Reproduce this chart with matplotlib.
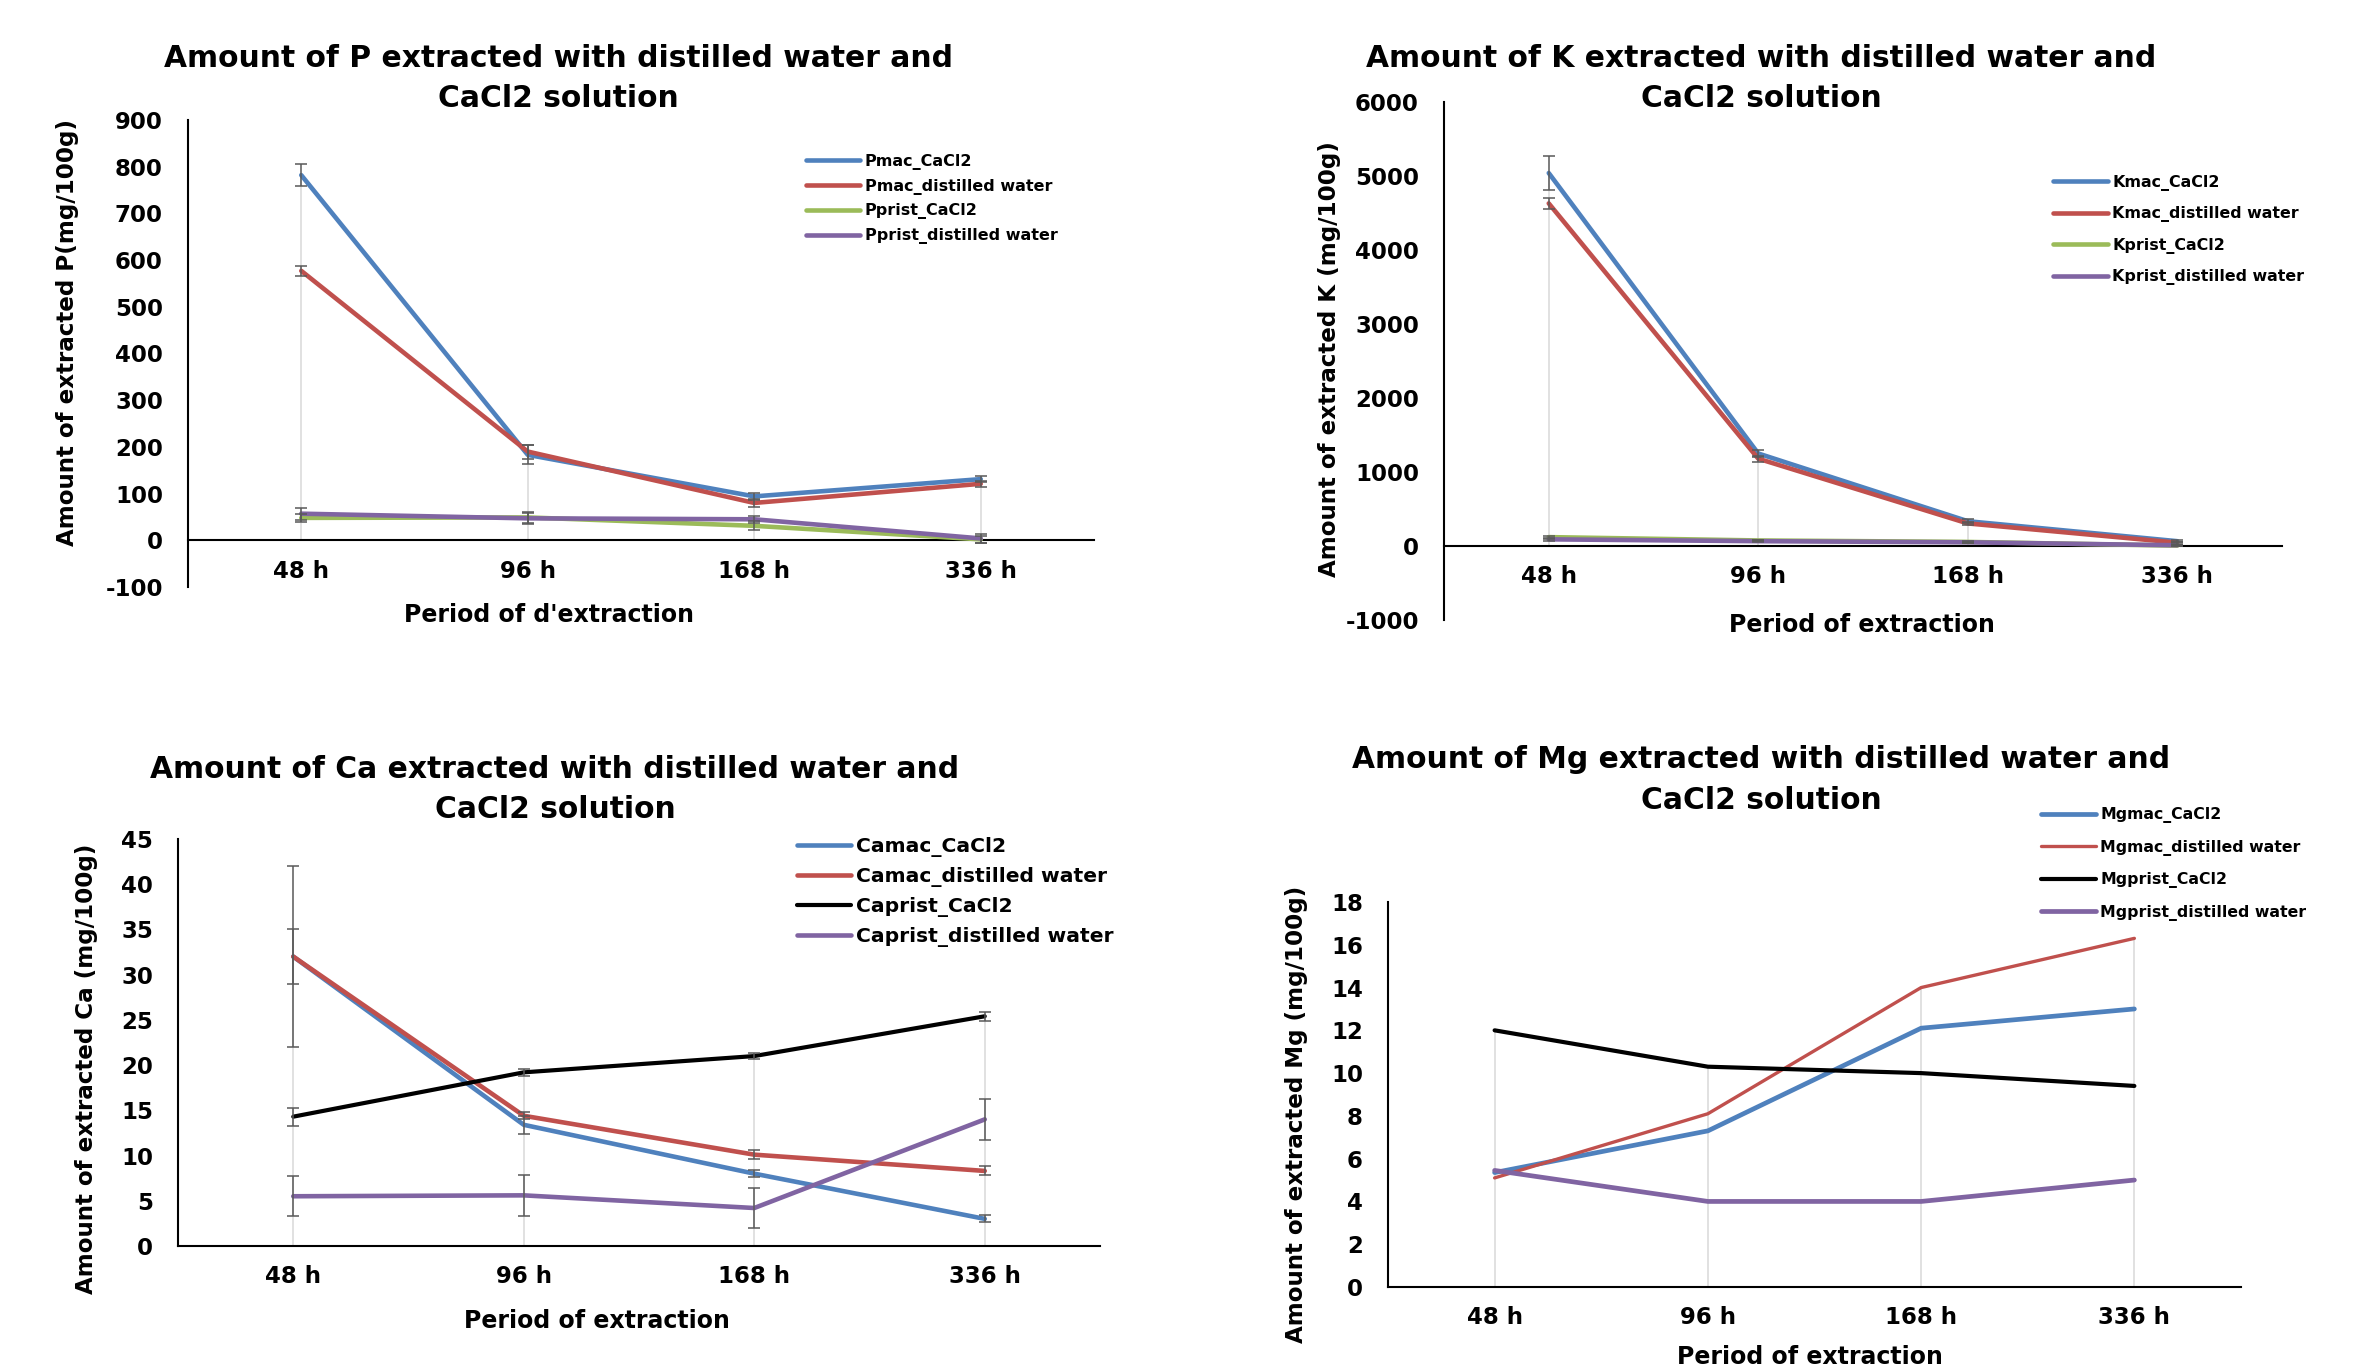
import numpy as np
import matplotlib
matplotlib.use("Agg")
import matplotlib.pyplot as plt

W, H = 2357, 1367
plt.rcParams['font.family'] = 'DejaVu Sans'
plt.rcParams['font.weight'] = 'bold'
plt.rcParams['axes.unicode_minus'] = False

periods = ["48 h", "96 h", "168 h", "336 h"]

# P (mg/100g)
p_mac_cacl2 = [782, 183, 94, 131]
p_mac_water = [577, 190, 80, 121]
p_prist_cacl2 = [48, 49, 31, 2]
p_prist_water = [57, 47, 45, 4]
p_mac_cacl2_err = [23, 20, 8, 6]
p_mac_water_err = [10, 15, 8, 6]
p_prist_cacl2_err = [8, 12, 10, 8]
p_prist_water_err = [13, 12, 8, 10]

# K (mg/100g)
k_mac_cacl2 = [5040, 1250, 335, 65]
k_mac_water = [4630, 1180, 305, 45]
k_prist_cacl2 = [120, 75, 55, 5]
k_prist_water = [90, 65, 50, 10]
k_mac_cacl2_err = [230, 50, 30, 15]
k_mac_water_err = [75, 40, 25, 15]
k_prist_cacl2_err = [20, 10, 10, 5]
k_prist_water_err = [20, 10, 10, 5]

# Ca (mg/100g)
ca_mac_cacl2 = [32.0, 13.4, 8.0, 3.0]
ca_mac_water = [32.0, 14.4, 10.1, 8.3]
ca_prist_cacl2 = [14.3, 19.2, 21.0, 25.4]
ca_prist_water = [5.5, 5.6, 4.2, 14.0]
ca_mac_cacl2_err = [10.0, 1.0, 0.4, 0.4]
ca_mac_water_err = [3.0, 0.4, 0.5, 0.5]
ca_prist_cacl2_err = [1.0, 0.4, 0.3, 0.5]
ca_prist_water_err = [2.2, 2.3, 2.25, 2.3]

# Mg (mg/100g)
mg_mac_cacl2 = [5.35, 7.3, 12.1, 13.0]
mg_mac_water = [5.1, 8.1, 14.0, 16.3]
mg_prist_cacl2 = [12.0, 10.3, 10.0, 9.4]
mg_prist_water = [5.45, 4.0, 4.0, 5.0]

BLUE = '#4F81BD'
RED = '#C0504D'
GREEN = '#9BBB59'
PURPLE = '#8064A2'
BLACK = '#000000'


def fx(px):
    return px / W


def fy(py):
    return 1 - py / H


def make_axes(fig, left, right, top, bottom):
    return fig.add_axes([fx(left), fy(bottom), (right - left) / W, (bottom - top) / H])


def draw_panel(ax, series, ylim, ystep, legend_cfg):
    x = np.arange(len(periods))
    # drop lines from the highest point to the axis
    tops = np.max([s[1] for s in series], axis=0)
    ax.vlines(x, 0, tops, color='#D9D9D9', lw=1.1, zorder=1)
    handles = []
    for label, vals, color, lw, err in series:
        h, = ax.plot(x, vals, color=color, lw=lw, label=label, zorder=3,
                     solid_capstyle='round')
        handles.append(h)
        if err is not None:
            ax.errorbar(x, vals, yerr=err, fmt='none', ecolor='#595959',
                        elinewidth=1.1, capsize=4.3, capthick=1.1, zorder=4)
    ax.set_xlim(-0.5, len(periods) - 0.5)
    ax.set_ylim(*ylim)
    ax.set_yticks(np.arange(ylim[0], ylim[1] + ystep / 2, ystep))
    ax.set_xticks(x)
    ax.set_xticklabels(periods)
    ax.spines['top'].set_visible(False)
    ax.spines['right'].set_visible(False)
    ax.spines['bottom'].set_position(('data', 0))
    ax.spines['left'].set_linewidth(1.5)
    ax.spines['bottom'].set_linewidth(1.5)
    ax.tick_params(axis='y', length=0, pad=18, labelsize=16.5)
    ax.tick_params(axis='x', length=0, pad=14, labelsize=16.5)
    for t in ax.get_xticklabels() + ax.get_yticklabels():
        t.set_fontweight('bold')
    fs, spacing, hlen, hx, cy = legend_cfg
    ax.figure.legend(handles=handles, loc='center left',
                     bbox_to_anchor=(fx(hx), fy(cy)), frameon=False,
                     labelspacing=spacing, handlelength=hlen,
                     handletextpad=0.28, borderpad=0, borderaxespad=0,
                     prop={'weight': 'bold', 'size': fs})


def title(fig, cx, base1, base2, elem):
    fig.text(fx(cx), fy(base1), "Amount of %s extracted with distilled water and" % elem,
             ha='center', va='baseline', fontsize=21.4, fontweight='bold')
    fig.text(fx(cx), fy(base2), "CaCl2 solution",
             ha='center', va='baseline', fontsize=21.4, fontweight='bold')


fig = plt.figure(figsize=(W / 100, H / 100), dpi=100)

# P panel
ax = make_axes(fig, 188, 1094, 120, 587)
draw_panel(ax, [
    ("Pmac_CaCl2", p_mac_cacl2, BLUE, 3.3, p_mac_cacl2_err),
    ("Pmac_distilled water", p_mac_water, RED, 3.3, p_mac_water_err),
    ("Pprist_CaCl2", p_prist_cacl2, GREEN, 3.3, p_prist_cacl2_err),
    ("Pprist_distilled water", p_prist_water, PURPLE, 3.3, p_prist_water_err),
], (-100, 900), 100, (11.5, 0.56, 3.4, 806, 199))
title(fig, 558, 67, 107, "P")
fig.text(fx(549), fy(615), "Period of d'extraction", ha='center', va='center',
         fontsize=17, fontweight='bold')
fig.text(fx(68), fy(332), "Amount of extracted P(mg/100g)", ha='center', va='center',
         rotation=90, fontsize=16.6, fontweight='bold')

# K panel
ax = make_axes(fig, 1444, 2282, 102, 620)
draw_panel(ax, [
    ("Kmac_CaCl2", k_mac_cacl2, BLUE, 3.3, k_mac_cacl2_err),
    ("Kmac_distilled water", k_mac_water, RED, 3.3, k_mac_water_err),
    ("Kprist_CaCl2", k_prist_cacl2, GREEN, 3.3, k_prist_cacl2_err),
    ("Kprist_distilled water", k_prist_water, PURPLE, 3.3, k_prist_water_err),
], (-1000, 6000), 1000, (11.4, 0.98, 3.45, 2053, 230))
title(fig, 1761, 67, 107, "K")
fig.text(fx(1862), fy(625), "Period of extraction", ha='center', va='center',
         fontsize=17, fontweight='bold')
fig.text(fx(1329), fy(359), "Amount of extracted K (mg/100g)", ha='center', va='center',
         rotation=90, fontsize=16.6, fontweight='bold')

# Ca panel
ax = make_axes(fig, 178, 1100, 839, 1246)
draw_panel(ax, [
    ("Camac_CaCl2", ca_mac_cacl2, BLUE, 3.3, ca_mac_cacl2_err),
    ("Camac_distilled water", ca_mac_water, RED, 3.3, ca_mac_water_err),
    ("Caprist_CaCl2", ca_prist_cacl2, BLACK, 3.0, ca_prist_cacl2_err),
    ("Caprist_distilled water", ca_prist_water, PURPLE, 3.3, ca_prist_water_err),
], (0, 45), 5, (14.6, 0.5, 2.65, 797, 892))
title(fig, 555, 778, 818, "Ca")
fig.text(fx(597), fy(1321), "Period of extraction", ha='center', va='center',
         fontsize=17, fontweight='bold')
fig.text(fx(87), fy(1069), "Amount of extracted Ca (mg/100g)", ha='center', va='center',
         rotation=90, fontsize=16.6, fontweight='bold')

# Mg panel
ax = make_axes(fig, 1388, 2241, 902, 1287)
draw_panel(ax, [
    ("Mgmac_CaCl2", mg_mac_cacl2, BLUE, 3.4, None),
    ("Mgmac_distilled water", mg_mac_water, RED, 2.4, None),
    ("Mgprist_CaCl2", mg_prist_cacl2, BLACK, 3.0, None),
    ("Mgprist_distilled water", mg_prist_water, PURPLE, 3.4, None),
], (0, 18), 2, (11.3, 1.05, 3.5, 2041, 864))
title(fig, 1761, 768, 809, "Mg")
fig.text(fx(1810), fy(1345), "Period of extraction", ha='center', va='top',
         fontsize=17, fontweight='bold')
fig.text(fx(1296), fy(1114), "Amount of extracted Mg (mg/100g)", ha='center', va='center',
         rotation=90, fontsize=16.6, fontweight='bold')

fig.savefig("out.png", dpi=100)
